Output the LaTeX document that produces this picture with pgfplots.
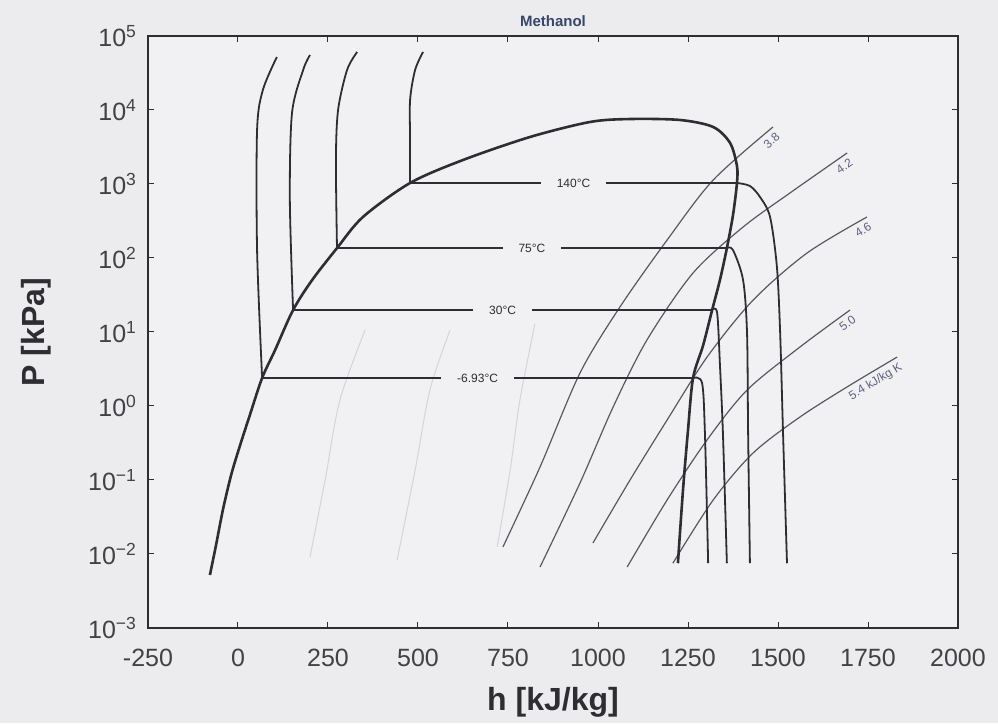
\documentclass[border=0pt]{standalone}
\usepackage{fontspec}
\setmainfont{Liberation Sans}
\usepackage{pgfplots}
\pgfplotsset{compat=1.18}
\definecolor{bg}{RGB}{236,236,238}
\definecolor{bgin}{RGB}{241,241,243}
\definecolor{ink}{RGB}{45,45,50}
\definecolor{isen}{RGB}{88,88,96}
\definecolor{faint}{RGB}{212,212,218}
\definecolor{lab}{RGB}{95,95,128}
\definecolor{ttl}{RGB}{55,70,105}
\tikzset{slab/.style={pos=1, sloped, anchor=north east, inner xsep=0.5pt, inner ysep=2.2pt, font=\fontsize{6}{6}\selectfont, text=lab}}
\begin{document}
\begin{tikzpicture}[x=1pt,y=1pt]
\fill[bg] (0,0) rectangle (499,361.5);
\begin{axis}[at={(74pt,47.5pt)}, anchor=south west, scale only axis,
  width=405pt, height=296pt,
  xmin=-250, xmax=2000, ymode=log, ymin=1e-3, ymax=1e5,
  axis background/.style={fill=bgin},
  xtick={-250,0,250,500,750,1000,1250,1500,1750,2000},
  xticklabels={-250,0,250,500,750,1000,1250,1500,1750,2000},
  ytick={1e-3,1e-2,1e-1,1,10,100,1000,10000,100000},
  yticklabels={10\textsuperscript{−3},10\textsuperscript{−2},10\textsuperscript{−1},10\textsuperscript{0},10\textsuperscript{1},10\textsuperscript{2},10\textsuperscript{3},10\textsuperscript{4},10\textsuperscript{5}},
  yminorticks=false, xminorticks=false,
  tick align=inside, major tick length=3pt,
  tick style={ink, line width=0.5pt},
  axis line style={ink, line width=0.7pt},
  ticklabel style={font=\fontsize{12.5}{12.5}\selectfont, text=ink!90},
  xticklabel style={yshift=-7pt},
  yticklabel style={xshift=-2pt},
  xlabel={h [kJ/kg]}, ylabel={P [kPa]},
  label style={font=\fontsize{16}{16}\selectfont\bfseries, text=ink},
  xlabel style={at={(axis description cs:0.5,-0.125)}, anchor=center},
  ylabel style={at={(axis description cs:-0.138,0.5)}, anchor=center},
  title={Methanol},
  title style={font=\fontsize{7.5}{7.5}\selectfont\bfseries, text=ttl, at={(axis description cs:0.5,1)}, anchor=south, yshift=-5pt},
]
% faint isentropes inside the dome
\addplot[faint, line width=0.5pt, smooth] coordinates {(200,0.0091) (242,0.1) (283,1.2) (353,10.6)};
\addplot[faint, line width=0.5pt, smooth] coordinates {(442,0.0083) (492,0.136) (533,1.64) (589,10.6)};
\addplot[faint, line width=0.5pt, smooth] coordinates {(720,0.0125) (756,0.136) (783,1.2) (825,13)};
% isentropes
\addplot[isen, line width=0.6pt, smooth] coordinates {(736,0.01245) (839,0.150) (950,2.79) (1061,21.8) (1192,175) (1320,1132) (1486,5890)}
  node[slab] {3.8};
\addplot[isen, line width=0.6pt, smooth] coordinates {(839,0.00667) (950,0.091) (1042,0.968) (1136,7.8) (1264,62.7) (1403,262) (1533,755) (1692,2625)}
  node[slab] {4.2};
\addplot[isen, line width=0.6pt, smooth] coordinates {(986,0.0141) (1089,0.1) (1192,0.647) (1303,4.59) (1431,27.0) (1581,117) (1747,358)}
  node[slab] {4.6};
\addplot[isen, line width=0.6pt, smooth] coordinates {(1081,0.00667) (1192,0.0537) (1303,0.348) (1414,1.64) (1561,6.27) (1700,19.8)}
  node[slab] {5.0};
\addplot[isen, line width=0.6pt, smooth] coordinates {(1208,0.0075) (1320,0.0537) (1431,0.232) (1561,0.71) (1692,1.81) (1831,4.59)}
  node[slab] {5.4 kJ/kg K};
% isotherm 140 C
\addplot[ink, line width=0.9pt, smooth] coordinates {(514,60800) (492,34800) (478,13650) (478,3936) (478,1032)};
\addplot[ink, line width=0.9pt] coordinates {(478,1032) (1386,1032)}
  node[pos=0.5, fill=bgin, inner xsep=8pt, inner ysep=1pt, font=\fontsize{6}{6}\selectfont, text=ink] {140°C};
\addplot[ink, line width=0.9pt, smooth] coordinates {(1386,1032) (1422,940) (1450,667) (1478,358) (1497,75.5) (1506,9.68) (1514,0.432) (1525,0.0075)};
% isotherm 75 C
\addplot[ink, line width=0.9pt, smooth] coordinates {(331,60800) (303,34800) (278,10000) (272,2110) (275,136)};
\addplot[ink, line width=0.9pt] coordinates {(275,136) (1358,136)}
  node[pos=0.5, fill=bgin, inner xsep=8pt, inner ysep=1pt, font=\fontsize{6}{6}\selectfont, text=ink] {75°C};
\addplot[ink, line width=0.9pt, smooth] coordinates {(1358,136) (1375,128) (1403,50.4) (1414,9.68) (1417,0.432) (1422,0.0075)};
% isotherm 30 C
\addplot[ink, line width=0.9pt, smooth] coordinates {(200,55300) (181,34800) (150,9100) (144,608) (153,19.8)};
\addplot[ink, line width=0.9pt] coordinates {(153,19.8) (1317,19.8)}
  node[pos=0.5, fill=bgin, inner xsep=8pt, inner ysep=1pt, font=\fontsize{6}{6}\selectfont, text=ink] {30°C};
\addplot[ink, line width=0.9pt, smooth] coordinates {(1317,19.8) (1331,18.1) (1339,3.37) (1347,0.432) (1358,0.0075)};
% isotherm -6.93 C
\addplot[ink, line width=0.9pt, smooth] coordinates {(108,52000) (69,18600) (53,5370) (53,128) (67,2.39)};
\addplot[ink, line width=0.9pt] coordinates {(67,2.39) (1264,2.39)}
  node[pos=0.5, fill=bgin, inner xsep=8pt, inner ysep=1pt, font=\fontsize{6}{6}\selectfont, text=ink] {-6.93°C};
\addplot[ink, line width=0.9pt, smooth] coordinates {(1264,2.39) (1289,2.05) (1297,0.432) (1306,0.0075)};
% saturation dome
\addplot[ink, line width=1.3pt, smooth] coordinates {
(-78,0.0052) (-61,0.0132) (-42,0.0394) (-19,0.117) (6,0.297) (33,0.755) (67,2.39) (103,5.7) (153,19.8) (206,50.4) (275,136) (347,358) (478,1032) (625,2110) (811,4315) (978,6890) (1089,7550) (1228,7328) (1320,5890) (1367,3580) (1386,1750) (1386,1032) (1375,380) (1358,136) (1339,51) (1317,19.8) (1292,6.6) (1264,2.39) (1250,0.47) (1236,0.072) (1222,0.0075)};
\end{axis}
\end{tikzpicture}
\end{document}
